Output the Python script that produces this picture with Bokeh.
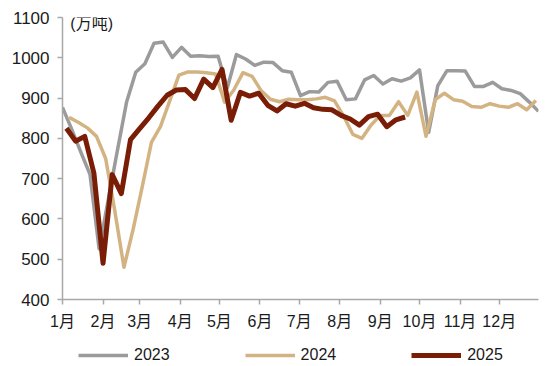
from bokeh.plotting import figure
from bokeh.layouts import column
from bokeh.models import Range1d, FixedTicker, Legend, LegendItem, Label
from bokeh.embed import file_html
from bokeh.resources import INLINE

# ---- data ----
month_labels = ["1月", "2月", "3月", "4月", "5月", "6月", "7月", "8月", "9月", "10月", "11月", "12月"]
month_start_days = [0, 31, 59, 90, 120, 151, 181, 212, 243, 273, 304, 334]

y2023 = [877, 823, 766, 711, 526, 648, 770, 890, 964, 985, 1036, 1039, 1001, 1026, 1004, 1005,
         1003, 1004, 925, 1008, 997, 981, 989, 988, 968, 964, 906, 916, 915, 939, 942, 896,
         898, 945, 956, 935, 948, 942, 950, 970, 815, 931, 968, 968, 967, 929, 929, 939, 923,
         919, 911, 890, 867]
y2024 = [852, 840, 826, 805, 750, 620, 480, 574, 680, 790, 830, 893, 957, 965, 965, 963, 960,
         890, 920, 963, 954, 918, 897, 891, 897, 896, 896, 898, 902, 893, 855, 810, 800, 833,
         857, 857, 891, 857, 915, 805, 896, 912, 896, 892, 879, 877, 886, 880, 877, 886, 871, 894]
y2025 = [825, 793, 805, 714, 490, 710, 663, 797, 824, 851, 880, 907, 920, 921, 899, 947, 926,
         971, 845, 914, 905, 912, 882, 868, 886, 880, 887, 876, 872, 871, 857, 848, 833, 854,
         860, 829, 846, 853]
series_names = ["2023", "2024", "2025"]

# first weekly observation (day of year) for each series
start_2023, start_2024, start_2025 = 0, 5, 3

def week_days(start, n):
    return [start + 7 * i for i in range(n)]

x2023 = week_days(start_2023, len(y2023))
x2024 = week_days(start_2024, len(y2024))
x2025 = week_days(start_2025, len(y2025))
all_x = [x2023, x2024, x2025]
all_y = [y2023, y2024, y2025]

FONT = "Liberation Sans, Noto Sans CJK SC"
styles = [dict(line_color="#9B9B9B", line_width=3.5),
          dict(line_color="#D4B383", line_width=3.5),
          dict(line_color="#7A1D07", line_width=5)]

p = figure(frame_width=476, frame_height=282, output_backend="svg", toolbar_location=None,
           x_range=Range1d(0, 364), y_range=Range1d(400, 1100),
           min_border_left=62, min_border_right=12, min_border_top=17, min_border_bottom=33)
p.outline_line_color = None
p.xgrid.visible = False
p.ygrid.visible = False

for xs, ys, st in zip(all_x, all_y, styles):
    p.line(xs, ys, line_join="round", **st)

for ax in (p.xaxis[0], p.yaxis[0]):
    ax.axis_line_color = "#A8A8A8"
    ax.axis_line_width = 1.5
    ax.major_tick_line_color = "#A8A8A8"
    ax.major_tick_line_width = 1.5
    ax.major_tick_in = 0
    ax.major_tick_out = 5
    ax.minor_tick_line_color = None
    ax.major_label_text_color = "#1A1A1A"
    ax.major_label_text_font = FONT

p.yaxis[0].ticker = FixedTicker(ticks=[400, 500, 600, 700, 800, 900, 1000, 1100])
p.yaxis[0].major_label_text_font_size = "17px"
p.yaxis[0].major_label_standoff = 8

p.xaxis[0].ticker = FixedTicker(ticks=month_start_days)
p.xaxis[0].major_label_overrides = {d: m for d, m in zip(month_start_days, month_labels)}
p.xaxis[0].major_label_text_font_size = "16px"
p.xaxis[0].major_label_standoff = 8

unit = Label(x=6, y=1085, text="(万吨)", text_font=FONT, text_font_size="16px",
             text_baseline="middle", text_align="left", text_color="#1A1A1A")
p.add_layout(unit)

# ---- legend strip below the chart (series drawn out of view, only legend shows) ----
leg = figure(width=550, height=34, output_backend="svg", toolbar_location=None,
             x_range=Range1d(0, 364), y_range=Range1d(0, 1),
             x_axis_type=None, y_axis_type=None,
             min_border_left=0, min_border_right=0, min_border_top=0, min_border_bottom=0)
leg.outline_line_color = None
leg.xgrid.visible = False
leg.ygrid.visible = False
items = []
for name, xs, ys, st in zip(series_names, all_x, all_y, styles):
    r = leg.line(xs, ys, **st)
    items.append(LegendItem(label=name, renderers=[r]))

legend = Legend(items=items, orientation="horizontal", location=(16, 2),
                border_line_color=None, background_fill_alpha=0,
                glyph_width=50, glyph_height=18, label_standoff=6, spacing=75,
                label_text_font=FONT, label_text_font_size="16px",
                label_text_color="#1A1A1A", padding=0, margin=0)
leg.add_layout(legend, "center")

layout = column(p, leg, spacing=0)
open("out.html", "w").write(file_html(layout, INLINE))
